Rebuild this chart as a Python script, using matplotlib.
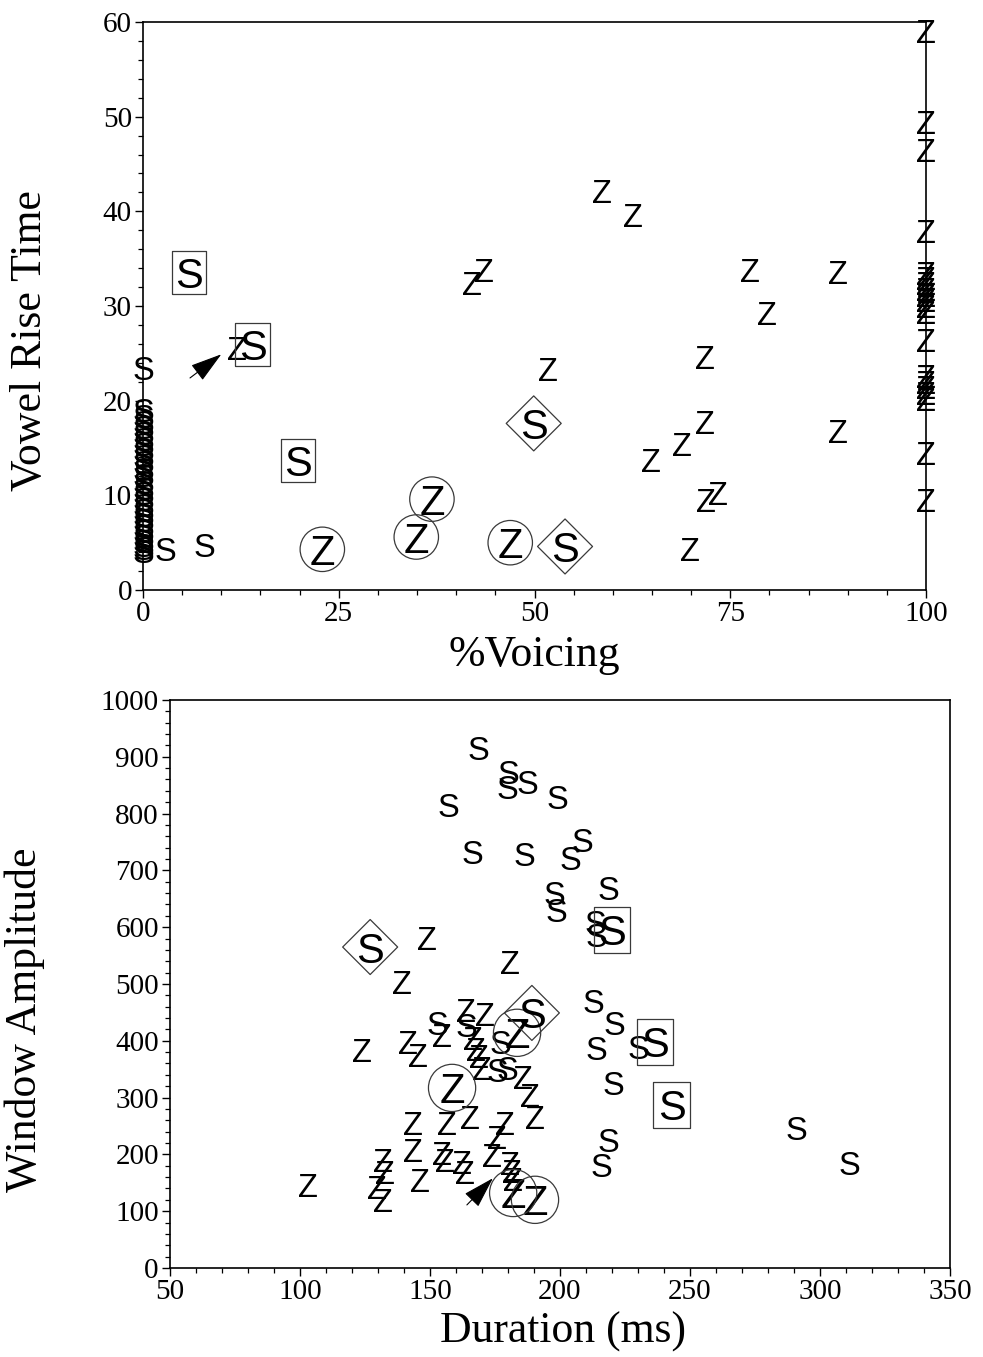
"""Two letter-scatter panels: %Voicing vs Vowel Rise Time, Duration vs Window Amplitude → out.png"""

import matplotlib

matplotlib.use("Agg")
import matplotlib.pyplot as plt
from matplotlib.ticker import MultipleLocator

SERIF = "Liberation Serif"
SANS = "Liberation Sans"

# ── top panel: %Voicing / Vowel Rise Time ─────────────────
TOP_S_X = [0] * 28 + [2.8, 7.9]
TOP_S_Y = [23.4, 19.0, 18.4, 17.8, 17.2, 16.6, 16.0, 15.4, 14.8, 14.2, 13.5, 12.8,
           12.1, 11.4, 10.8, 10.2, 9.6, 9.0, 8.4, 7.9, 7.4, 6.8, 6.2, 5.7, 5.2,
           4.8, 4.4, 4.1, 4.3, 4.8]
TOP_Z_X = [12.0, 42.0, 43.6, 51.7, 58.6, 62.6, 77.5, 79.7, 88.8, 71.8, 71.8, 68.8,
           64.9, 71.9, 73.4, 69.9, 88.8] + [100] * 20
TOP_Z_Y = [25.6, 32.4, 33.8, 23.3, 42.2, 39.6, 33.8, 29.3, 33.6, 24.6, 17.8, 15.4,
           13.7, 9.5, 10.3, 4.3, 16.8,
           59.0, 49.4, 46.5, 37.9, 33.5, 33.0, 32.4, 31.8, 31.2, 30.6, 30.0, 29.4,
           26.4, 22.6, 22.0, 21.4, 20.8, 20.2, 14.5, 9.5]
TOP_CIRCLE_Z_X = [22.9, 36.9, 34.9, 46.9]
TOP_CIRCLE_Z_Y = [4.3, 9.6, 5.6, 5.0]
TOP_BOX_S_X = [5.9, 14.0, 19.8]
TOP_BOX_S_Y = [33.5, 25.9, 13.7]
TOP_DIAMOND_S_X = [49.9, 53.9]
TOP_DIAMOND_S_Y = [17.6, 4.6]
TOP_ARROW = ((6.0, 22.4), (10.0, 24.9))  # tail, tip

# ── bottom panel: Duration / Window Amplitude ─────────────
BOT_S_X = [168.5, 180, 179.6, 187.3, 199.2, 157, 166.5, 186.5, 208.5, 204.2, 198,
           198.5, 218.5, 213.5, 214, 213, 221, 214, 230, 220.4, 218.5, 216, 291,
           311.5, 153, 164, 177, 175.8, 179.6]
BOT_S_Y = [915, 873, 847, 856, 829, 815, 732, 729, 754, 722, 660, 630, 669, 609,
           586, 470, 431, 387, 389, 326, 225, 181, 246, 185, 431, 428, 398, 349, 352]
BOT_Z_X = [148.8, 180.8, 139.2, 123.8, 141.5, 145.4, 154.6, 164, 171, 166.5, 167.5,
           169, 170, 185.8, 188.5, 190.4, 165.4, 156.5, 143.5, 178.8, 175.8, 143.5,
           154.6, 155.8, 162.3, 163.5, 146, 132, 132.7, 129.6, 132, 174, 180.8,
           181.5, 182, 103]
BOT_Z_Y = [581, 539, 504, 384, 398, 375, 410, 454, 447, 405, 385, 373, 352, 336,
           305, 266, 266, 255, 255, 255, 231, 208, 202, 190, 187, 169, 155, 190,
           169, 143, 120, 199, 185, 170, 157, 146]
BOT_CIRCLE_Z_X = [158.5, 183.5, 182, 190.4]
BOT_CIRCLE_Z_Y = [317, 414, 132, 120]
BOT_BOX_S_X = [220, 236.5, 243]
BOT_BOX_S_Y = [595, 398, 287]
BOT_DIAMOND_S_X = [127, 189.2]
BOT_DIAMOND_S_Y = [565, 449]
BOT_ARROW = ((164.2, 111), (174.2, 158))

PLAIN_SIZE = 23.5
BIG_SIZE = 30
LABEL_SIZE = 31.5
BOX_VERTS = [(-0.4, -0.5), (0.4, -0.5), (0.4, 0.5), (-0.4, 0.5), (-0.4, -0.5)]


def _letters(ax, xs, ys, letter, size):
    for x, y in zip(xs, ys):
        ax.text(x, y, letter, fontsize=size, family=SANS, ha="center",
                va="center_baseline", clip_on=False, color="black")


def _enclosed(ax, xs, ys, letter, marker, msize):
    _letters(ax, xs, ys, letter, BIG_SIZE)
    ax.scatter(xs, ys, s=msize ** 2, marker=marker, facecolors="none",
               edgecolors="#3a3a3a", linewidths=0.9, clip_on=False, zorder=3)


def _arrow(ax, tail, tip):
    ax.annotate("", xy=tip, xytext=tail,
                arrowprops=dict(arrowstyle="-|>,head_length=1.0,head_width=0.3",
                                color="black", lw=0.8, mutation_scale=20,
                                shrinkA=0, shrinkB=0))


def _style(ax):
    for sp in ax.spines.values():
        sp.set_linewidth(1.2)
    ax.tick_params(which="both", direction="out", top=False, right=False,
                   labelsize=21, pad=2)
    ax.tick_params(which="major", length=6, width=1.0)
    ax.tick_params(which="minor", length=3.5, width=0.9)
    for lab in ax.get_xticklabels() + ax.get_yticklabels():
        lab.set_family(SERIF)


def main():
    fig = plt.figure(figsize=(9.83, 13.57), dpi=100)

    # top
    ax = fig.add_axes([0.1455, 0.5652, 0.7965, 0.4186])
    ax.set_xlim(0, 100)
    ax.set_ylim(0, 60)
    ax.xaxis.set_major_locator(MultipleLocator(25))
    ax.xaxis.set_minor_locator(MultipleLocator(5))
    ax.yaxis.set_major_locator(MultipleLocator(10))
    ax.yaxis.set_minor_locator(MultipleLocator(2))
    _letters(ax, TOP_S_X, TOP_S_Y, "S", PLAIN_SIZE)
    _letters(ax, TOP_Z_X, TOP_Z_Y, "Z", PLAIN_SIZE)
    _enclosed(ax, TOP_CIRCLE_Z_X, TOP_CIRCLE_Z_Y, "Z", "o", 32)
    _enclosed(ax, TOP_BOX_S_X, TOP_BOX_S_Y, "S", BOX_VERTS, 31)
    _enclosed(ax, TOP_DIAMOND_S_X, TOP_DIAMOND_S_Y, "S", "D", 28)
    _arrow(ax, *TOP_ARROW)
    _style(ax)
    ax.set_xlabel("%Voicing", family=SERIF, fontsize=LABEL_SIZE, va="center")
    ax.xaxis.set_label_coords(0.5, -0.114)
    ax.set_ylabel("Vowel Rise Time", family=SERIF, fontsize=LABEL_SIZE, va="center")
    ax.yaxis.set_label_coords(-0.144, 0.44)

    # bottom
    ax = fig.add_axes([0.1729, 0.0656, 0.7935, 0.4186])
    ax.set_xlim(50, 350)
    ax.set_ylim(0, 1000)
    ax.xaxis.set_major_locator(MultipleLocator(50))
    ax.xaxis.set_minor_locator(MultipleLocator(10))
    ax.yaxis.set_major_locator(MultipleLocator(100))
    ax.yaxis.set_minor_locator(MultipleLocator(20))
    _letters(ax, BOT_S_X, BOT_S_Y, "S", PLAIN_SIZE)
    _letters(ax, BOT_Z_X, BOT_Z_Y, "Z", PLAIN_SIZE)
    _enclosed(ax, BOT_CIRCLE_Z_X, BOT_CIRCLE_Z_Y, "Z", "o", 34)
    _enclosed(ax, BOT_BOX_S_X, BOT_BOX_S_Y, "S", BOX_VERTS, 33)
    _enclosed(ax, BOT_DIAMOND_S_X, BOT_DIAMOND_S_Y, "S", "D", 28)
    _arrow(ax, *BOT_ARROW)
    _style(ax)
    ax.set_xlabel("Duration (ms)", family=SERIF, fontsize=LABEL_SIZE, va="center")
    ax.xaxis.set_label_coords(0.504, -0.113)
    ax.set_ylabel("Window Amplitude", family=SERIF, fontsize=LABEL_SIZE, va="center")
    ax.yaxis.set_label_coords(-0.186, 0.437)

    fig.savefig("out.png", dpi=100)
    plt.close(fig)


if __name__ == "__main__":
    main()
